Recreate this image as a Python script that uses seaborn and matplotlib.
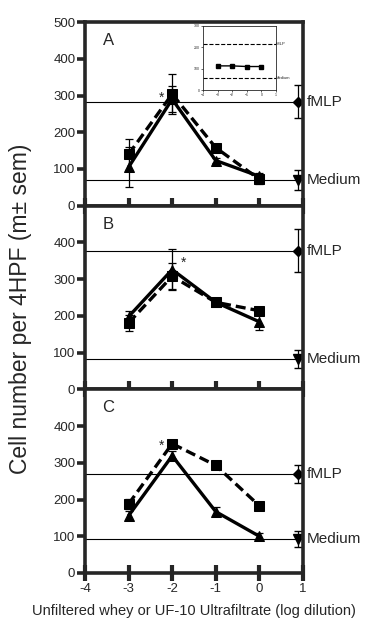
import numpy as np
import pandas as pd
import matplotlib
matplotlib.use("Agg")
import matplotlib.pyplot as plt
import seaborn as sns

# log dilution positions
doses = [-3, -2, -1, 0]
ctrl_x = 0.88

# panel A
a_tri = [105, 290, 123, 80]
a_tri_err = [55, 35, 8, 10]
a_sq = [140, 304, 158, 72]
a_sq_err = [42, 55, 6, 12]
a_fmlp, a_fmlp_err = 283, 45
a_med, a_med_err = 70, 27

# panel B
b_tri = [198, 326, 237, 184]
b_tri_err = [16, 55, 6, 22]
b_sq = [181, 308, 237, 214]
b_sq_err = [22, 35, 6, 6]
b_fmlp, b_fmlp_err = 378, 58
b_med, b_med_err = 82, 25

# panel C
c_tri = [156, 319, 167, 100]
c_tri_err = [12, 12, 12, 10]
c_sq = [188, 352, 293, 183]
c_sq_err = [14, 6, 6, 6]
c_fmlp, c_fmlp_err = 270, 24
c_med, c_med_err = 92, 22

# inset (panel A)
inset_sq = [113, 113, 110, 110]
inset_fmlp = 215
inset_med = 55

panels = [
    ("A", a_tri, a_tri_err, a_sq, a_sq_err, a_fmlp, a_fmlp_err, a_med, a_med_err, (-2.25, 295)),
    ("B", b_tri, b_tri_err, b_sq, b_sq_err, b_fmlp, b_fmlp_err, b_med, b_med_err, (-1.75, 345)),
    ("C", c_tri, c_tri_err, c_sq, c_sq_err, c_fmlp, c_fmlp_err, c_med, c_med_err, (-2.25, 345)),
]

sns.set_style("ticks")
plt.rcParams['font.family'] = ['Liberation Sans', 'DejaVu Sans']

fig, axes = plt.subplots(3, 1, figsize=(3.73, 6.30), dpi=100, sharex=True)
fig.subplots_adjust(left=0.228, right=0.812, bottom=0.0905, top=0.965, hspace=0)

for i, (ax, p) in enumerate(zip(axes, panels)):
    letter, tri, tri_e, sq, sq_e, fm, fm_e, md, md_e, star = p
    df = pd.DataFrame({"x": doses * 2,
                       "y": tri + sq,
                       "s": ["tri"] * 4 + ["sq"] * 4})
    ax.errorbar(doses, tri, yerr=tri_e, fmt='none', ecolor='black', elinewidth=0.9, capsize=3, capthick=0.9)
    ax.errorbar(doses, sq, yerr=sq_e, fmt='none', ecolor='black', elinewidth=0.9, capsize=3, capthick=0.9)
    sns.lineplot(data=df[df.s == "sq"], x="x", y="y", ax=ax, color='black', lw=2.4,
                 linestyle=(0, (3, 1.5)), marker='s', markersize=7, markeredgecolor='black')
    sns.lineplot(data=df[df.s == "tri"], x="x", y="y", ax=ax, color='black', lw=2.4,
                 marker='^', markersize=7, markeredgecolor='black')
    ax.axhline(fm, color='black', lw=0.8)
    ax.axhline(md, color='black', lw=0.8)
    ax.errorbar([ctrl_x], [fm], yerr=[fm_e], fmt='D', color='black', ms=5, elinewidth=0.9, capsize=3)
    ax.errorbar([ctrl_x], [md], yerr=[md_e], fmt='v', color='black', ms=7, elinewidth=0.9, capsize=3)
    ax.text(1.02, fm, "fMLP", transform=ax.get_yaxis_transform(), va='center', ha='left',
            fontsize=11, clip_on=False)
    ax.text(1.02, md, "Medium", transform=ax.get_yaxis_transform(), va='center', ha='left',
            fontsize=11, clip_on=False)
    ax.text(star[0], star[1], "*", fontsize=10, ha='center', va='center')
    ax.text(0.08, 0.9, letter, transform=ax.transAxes, fontsize=12, va='center')

    ax.set_xlim(-4, 1)
    ax.set_ylim(0, 500)
    if i == 0:
        ax.set_yticks([0, 100, 200, 300, 400, 500])
    else:
        ax.set_yticks([0, 100, 200, 300, 400])
    ax.set_xticks([-4, -3, -2, -1, 0, 1])
    ax.set_xlabel("")
    ax.set_ylabel("")
    for s in ax.spines.values():
        s.set_linewidth(2.6)
    ax.tick_params(axis='y', direction='out', length=6, width=2.6, labelsize=9.5, pad=1)
    ax.tick_params(axis='x', direction='inout', length=12, width=3, labelsize=9.5, pad=1)

axes[2].set_xticklabels(["-4", "-3", "-2", "-1", "0", "1"])
axes[2].set_xlabel("Unfiltered whey or UF-10 Ultrafiltrate (log dilution)", fontsize=10.5, labelpad=7)
fig.text(0.055, 0.51, "Cell number per 4HPF (m\u00b1 sem)", rotation=90, fontsize=16.5,
         ha='center', va='center')

# inset
ins = fig.add_axes([0.544, 0.857, 0.196, 0.102])
ins.plot(doses, inset_sq, color='black', lw=1, marker='s', ms=3)
ins.axhline(inset_fmlp, color='black', lw=0.8, ls='--')
ins.axhline(inset_med, color='black', lw=0.8, ls='--')
ins.text(1.0, inset_fmlp, "fMLP", fontsize=3, va='center', ha='left')
ins.text(1.0, inset_med, "Medium", fontsize=3, va='center', ha='left')
ins.set_xlim(-4, 1)
ins.set_ylim(0, 300)
ins.set_xticks([-4, -3, -2, -1, 0, 1])
ins.set_yticks([0, 100, 200, 300])
ins.tick_params(labelsize=2.5, length=1.5, width=0.5, pad=0.5)
for s in ins.spines.values():
    s.set_linewidth(0.6)

fig.savefig("out.png", dpi=100)
